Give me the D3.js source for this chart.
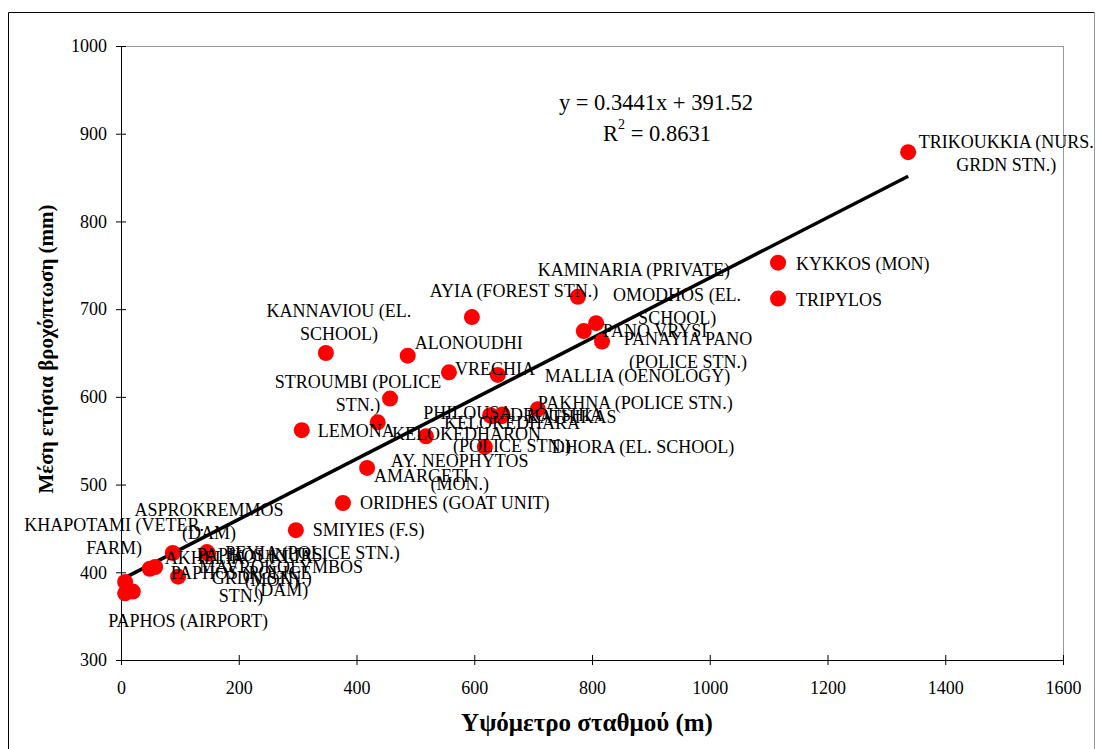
<!DOCTYPE html>
<html>
<head>
<meta charset="utf-8">
<script src="https://cdn.jsdelivr.net/npm/d3@7"></script>
<style>
  body { margin: 0; background: #fff; }
  svg { display: block; font-family: "Liberation Serif", "Times New Roman", serif; }
  .lbl { font-size: 18px; fill: #000; }
</style>
</head>
<body>
<div id="chart"></div>
<script>
// station names (\n = line break in the label)
var STATIONS = [
  "TRIKOUKKIA (NURS.\nGRDN STN.)", "KYKKOS (MON)", "TRIPYLOS", "KAMINARIA (PRIVATE)",
  "AYIA (FOREST STN.)", "OMODHOS (EL.\nSCHOOL)", "PANO VRYSI", "PANAYIA PANO\n(POLICE STN.)",
  "KANNAVIOU (EL.\nSCHOOL)", "ALONOUDHI", "VRECHIA", "MALLIA (OENOLOGY)",
  "STROUMBI (POLICE\nSTN.)", "PAKHNA (POLICE STN.)", "PHILOUSA", "KELOKEDHARA\n(POLICE STN.)",
  "DROUSHIA", "KATHIKAS", "AY.  NEOPHYTOS\n(MON.)", "LEMONA",
  "KELOKEDHARON", "DHORA (EL. SCHOOL)", "AMARGETI", "ORIDHES (GOAT UNIT)",
  "SMIYIES (F.S)", "ASPROKREMMOS\n(DAM)", "PEYIA (POLICE STN.)", "AKHELIA",
  "PAPHOS (NURS.\nGRDN STN.)", "MAVROKOLYMBOS\n(DAM)", "PAPHOS (POLICE\nSTN.)", "KHAPOTAMI (VETER.\nFARM)",
  "PAPHOS (AIRPORT)", "KOUKLIA\n(MON)"
];
// elevation (m)
var ELEVATION = [
  1337, 1116, 1116, 776,
  596, 807, 786, 817,
  348, 487, 557, 640,
  457, 708, 627, 630,
  647, 648, 436, 307,
  518, 618, 418, 377,
  297, 146, 148, 88,
  49, 58, 97, 7,
  7, 20
];
// mean annual rainfall (mm)
var RAINFALL = [
  879, 753, 712, 714,
  691, 684, 675, 663,
  650, 647, 628, 625,
  598, 586, 579, 578,
  578, 580, 571, 562,
  555, 543, 519, 479,
  448, 423, 421, 422,
  404, 406, 395, 389,
  376, 378
];
// label placement relative to the marker: [dx, dy, anchor]
var LABEL_POS = [
  [98, -10, "middle"], [18, 1, "start"], [18, 1, "start"], [56, -27, "middle"],
  [42, -26, "middle"], [81, -28, "middle"], [19, 0, "start"], [86, -3, "middle"],
  [13, -42, "middle"], [7, -13, "start"], [6, -4, "start"], [47, 1, "start"],
  [-32, -17, "middle"], [0, -6, "start"], [-67, -3, "start"], [20, 7, "middle"],
  [8, -1, "start"], [24, 2, "start"], [82, 38, "middle"], [16, 0, "start"],
  [-34, -3, "start"], [67, 0, "start"], [7, 8, "start"], [17, 0, "start"],
  [17, 0, "start"], [2, -42, "middle"], [17, -1, "start"], [-8, 5, "start"],
  [112, -14, "middle"], [126, 0, "middle"], [63, -4, "middle"], [-11, -57, "middle"],
  [63, 27, "middle"], [139, -35, "middle"]
];
var X_TICKS = [0, 200, 400, 600, 800, 1000, 1200, 1400, 1600];
var Y_TICKS = [300, 400, 500, 600, 700, 800, 900, 1000];
var SLOPE = 0.3441, INTERCEPT = 391.52, R2 = 0.8631;

var W = 1097, H = 749;
var margin = { top: 46, right: 34, bottom: 89, left: 121 };
var width = W - margin.left - margin.right,
    height = H - margin.top - margin.bottom;

var svg = d3.select("#chart").append("svg")
  .attr("width", W)
  .attr("height", H);

// outer frame
svg.append("line").attr("x1", 8.5).attr("y1", 12.5).attr("x2", 8.5).attr("y2", H)
  .attr("stroke", "#000");
svg.append("line").attr("x1", 8.5).attr("y1", 12.5).attr("x2", 1094.5).attr("y2", 12.5)
  .attr("stroke", "#000");
svg.append("line").attr("x1", 1094.5).attr("y1", 12.5).attr("x2", 1094.5).attr("y2", H)
  .attr("stroke", "#999");

var g = svg.append("g")
  .attr("transform", "translate(" + margin.left + "," + margin.top + ")");

var x = d3.scaleLinear().domain([0, 1600]).range([0, width]);
var y = d3.scaleLinear().domain([300, 1000]).range([height, 0]);

// plot area border (top, right)
g.append("line").attr("x1", 0).attr("x2", width).attr("y1", 0.5).attr("y2", 0.5)
  .attr("stroke", "#999");
g.append("line").attr("x1", width + 0.5).attr("x2", width + 0.5).attr("y1", 0).attr("y2", height)
  .attr("stroke", "#999");

// axes
var fmt = d3.format("d");
var xAxis = d3.axisBottom(x).tickValues(X_TICKS).tickFormat(fmt)
  .tickSizeInner(5).tickSizeOuter(0).tickPadding(16);
var yAxis = d3.axisLeft(y).tickValues(Y_TICKS).tickFormat(fmt)
  .tickSizeInner(5).tickSizeOuter(0).tickPadding(9);

var gX = g.append("g")
  .attr("transform", "translate(0," + height + ")")
  .call(xAxis);
gX.selectAll(".tick line").attr("y1", -5).attr("y2", 5);

var gY = g.append("g").call(yAxis);
gY.selectAll(".tick line").attr("x1", -5).attr("x2", 5);

g.selectAll(".domain").attr("stroke", "#000");
g.selectAll(".tick line").attr("stroke", "#000");
g.selectAll(".tick text")
  .attr("fill", "#000")
  .style("font-family", "'Liberation Serif', serif")
  .style("font-size", "18px");

// axis titles
svg.append("text")
  .attr("x", 587).attr("y", 722)
  .attr("text-anchor", "middle").attr("dominant-baseline", "central")
  .style("font-weight", "bold").style("font-size", "25px")
  .text("Υψόμετρο σταθμού (m)");

svg.append("text")
  .attr("transform", "translate(46,349) rotate(-90)")
  .attr("text-anchor", "middle").attr("dominant-baseline", "central")
  .style("font-weight", "bold").style("font-size", "21px")
  .text("Μέση ετήσια βροχόπτωση (mm)");

// data
var data = STATIONS.map(function(name, i) {
  return { name: name, elev: ELEVATION[i], rain: RAINFALL[i], pos: LABEL_POS[i] };
});

// trendline over the data range
var xExt = d3.extent(ELEVATION);
g.append("line")
  .attr("x1", x(xExt[0])).attr("y1", y(SLOPE * xExt[0] + INTERCEPT))
  .attr("x2", x(xExt[1])).attr("y2", y(SLOPE * xExt[1] + INTERCEPT))
  .attr("stroke", "#000").attr("stroke-width", 3.5);

// markers
g.selectAll(".pt")
  .data(data)
  .enter().append("circle")
  .attr("class", "pt")
  .attr("cx", function(d) { return x(d.elev); })
  .attr("cy", function(d) { return y(d.rain); })
  .attr("r", 8)
  .attr("fill", "#ff0000");

// labels
var labels = g.selectAll(".lbl")
  .data(data)
  .enter().append("text")
  .attr("class", "lbl")
  .attr("text-anchor", function(d) { return d.pos[2]; })
  .attr("transform", function(d) {
    return "translate(" + (x(d.elev) + d.pos[0]) + "," + (y(d.rain) + d.pos[1]) + ")";
  });

labels.each(function(d) {
  var t = d3.select(this);
  d.name.split("\n").forEach(function(line, k) {
    t.append("tspan")
      .attr("x", 0)
      .attr("y", k * 23)
      .attr("dy", "0.35em")
      .text(line);
  });
});

// regression equation
svg.append("text")
  .attr("x", 656).attr("y", 102)
  .attr("text-anchor", "middle").attr("dominant-baseline", "central")
  .style("font-size", "22.5px")
  .text("y = " + SLOPE + "x + " + INTERCEPT);

var r2 = svg.append("text")
  .attr("x", 657).attr("y", 133)
  .attr("text-anchor", "middle").attr("dominant-baseline", "central")
  .style("font-size", "22.5px");
r2.append("tspan").text("R");
r2.append("tspan").attr("dy", "-9").style("font-size", "14px").text("2");
r2.append("tspan").attr("dy", "9").text(" = " + R2);
</script>
</body>
</html>
